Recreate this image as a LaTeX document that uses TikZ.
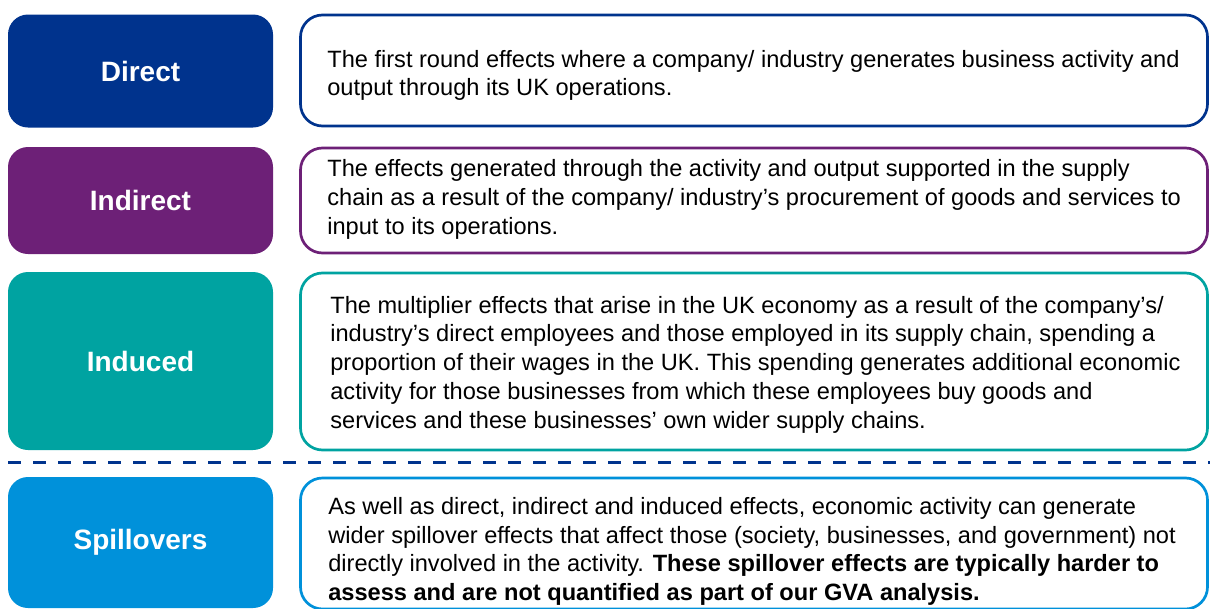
\documentclass[tikz,border=0pt]{standalone}
\usepackage{fontspec}
\setmainfont{Liberation Sans}
\usetikzlibrary{positioning}
\definecolor{kblue}{HTML}{00338D}
\definecolor{kpurple}{HTML}{6D2077}
\definecolor{kteal}{HTML}{00A3A1}
\definecolor{klight}{HTML}{0091DA}
\begin{document}
\begin{tikzpicture}[x=1pt,y=-1pt,
    labelbox/.style={rounded corners=20pt,minimum width=265pt,text=white,
        font=\fontsize{28}{32}\selectfont\bfseries},
    textbox/.style={draw=#1,line width=2.7pt,rounded corners=22pt,fill=white,
        minimum width=907pt},
    desc/.style={inner sep=0pt,align=left,anchor=west,
        font=\fontsize{23.6}{28.7}\selectfont}]
    \useasboundingbox (0,0) rectangle (1210,608);
    % effect labels
    \node[labelbox,fill=kblue,minimum height=113pt] (direct) at (140.5,71) {Direct};
    \node[labelbox,fill=kpurple,minimum height=107pt] (indirect) at (140.5,200.5) {Indirect};
    \node[labelbox,fill=kteal,minimum height=178pt] (induced) at (140.5,361) {Induced};
    \node[labelbox,fill=klight,minimum height=131pt] (spill) at (140.5,542.5) {Spillovers};
    % description boxes
    \node[textbox=kblue,minimum height=111pt] (directbox) at (754,70.5) {};
    \node[textbox=kpurple,minimum height=105pt] (indirectbox) at (754,200.5) {};
    \node[textbox=kteal,minimum height=177pt] (inducedbox) at (754,361.5) {};
    \node[textbox=klight,minimum height=131pt] (spillbox) at (754,543.5) {};
    \node[desc] (directtxt) at ([xshift=28pt,yshift=-5pt]directbox.west)
        {The first round effects where a company/ industry generates business activity and\\
         output through its UK operations.};
    \node[desc] (indirecttxt) at ([xshift=28pt,yshift=1pt]indirectbox.west)
        {The effects generated through the activity and output supported in the supply\\
         chain as a result of the company/ industry’s procurement of goods and services to\\
         input to its operations.};
    \node[desc] (inducedtxt) at ([xshift=31pt,yshift=-3pt]inducedbox.west)
        {The multiplier effects that arise in the UK economy as a result of the company’s/\\
         industry’s direct employees and those employed in its supply chain, spending a\\
         proportion of their wages in the UK. This spending generates additional economic\\
         activity for those businesses from which these employees buy goods and\\
         services and these businesses’ own wider supply chains.};
    \node[desc] (spilltxt) at ([xshift=29pt,yshift=-8pt]spillbox.west)
        {As well as direct, indirect and induced effects, economic activity can generate\\
         wider spillover effects that affect those (society, businesses, and government) not\\
         directly involved in the activity. \textbf{These spillover effects are typically harder to}\\
         \textbf{assess and are not quantified as part of our GVA analysis.}};
    % separator
    \draw[kblue,line width=3pt,dash pattern=on 13pt off 12pt] (8,462) -- (1210,462);
\end{tikzpicture}
\end{document}
